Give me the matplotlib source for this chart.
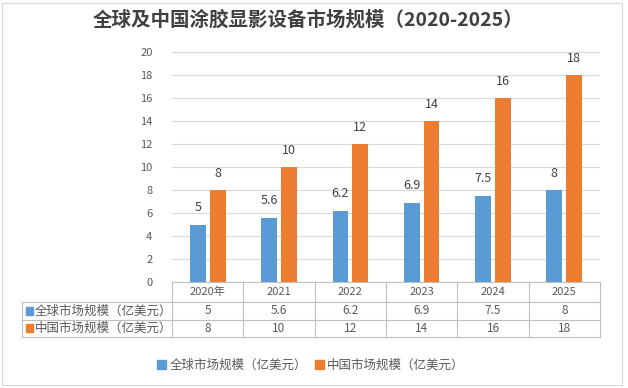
import numpy as np
import matplotlib.pyplot as plt
from matplotlib.patches import Rectangle

plt.rcParams['font.family'] = ['Noto Sans CJK SC', 'DejaVu Sans']

# --- data ---
years = ["2020年", "2021", "2022", "2023", "2024", "2025"]
global_size = [5, 5.6, 6.2, 6.9, 7.5, 8]
china_size = [8, 10, 12, 14, 16, 18]
series_names = ["全球市场规模（亿美元）", "中国市场规模（亿美元）"]
title = "全球及中国涂胶显影设备市场规模（2020-2025）"

blue = "#5B9BD5"
orange = "#ED7D31"
grid_c = "#D9D9D9"
txt_c = "#595959"

W, H = 628, 388
fig = plt.figure(figsize=(W / 100, H / 100), dpi=100)

# outer border
fig.patches.append(Rectangle((2 / W, 3 / H), 620 / W, 382 / H, transform=fig.transFigure,
                             fill=False, edgecolor="#D9D9D9", lw=0.8))

fig.text(308 / W, 1 - 20 / H, title, ha="center", va="center", fontsize=14,
         color="#404040", fontweight="bold")

x0, x1 = 172, 600
ax = fig.add_axes([x0 / W, 1 - 282 / H, (x1 - x0) / W, (282 - 52) / H])
x = np.arange(len(years))
bw = 0.22
gap = 0.03
ax.bar(x - bw / 2 - gap, global_size, bw, color=blue)
ax.bar(x + bw / 2 + gap, china_size, bw, color=orange)
for xi, g, c in zip(x, global_size, china_size):
    ax.text(xi - bw / 2 - gap, g + 0.9, f"{g:g}", ha="center", va="bottom", fontsize=9, color="#404040")
    ax.text(xi + bw / 2 + gap, c + 0.9, f"{c:g}", ha="center", va="bottom", fontsize=9, color="#404040")

ax.set_xlim(-0.5, len(years) - 0.5)
ax.set_ylim(0, 20)
ax.set_yticks(range(0, 21, 2))
ax.tick_params(axis="y", length=0, labelsize=8, colors=txt_c, pad=14)
ax.set_xticks([])
ax.grid(axis="y", color=grid_c, lw=0.8)
ax.set_axisbelow(True)
for s in ax.spines.values():
    s.set_visible(False)

# --- data table ---
tax = fig.add_axes([x0 / W, 1 - 337 / H, (x1 - x0) / W, (337 - 282) / H])
tax.set_xlim(-0.5, len(years) - 0.5)
tax.set_ylim(3, 0)
tax.axis("off")
cat_w = (x1 - x0) / len(years)
left = -0.5 - (x0 - 22) / cat_w
lc = "#BFBFBF"
# horizontal lines
tax.plot([-0.5, len(years) - 0.5], [0, 0], color=lc, lw=0.8, clip_on=False)
for yy in [1.1, 2.05, 3]:
    tax.plot([left, len(years) - 0.5], [yy, yy], color=lc, lw=0.8, clip_on=False)
# vertical lines
tax.plot([left, left], [1.1, 3], color=lc, lw=0.8, clip_on=False)
for xv in np.arange(-0.5, len(years) + 0.5, 1):
    tax.plot([xv, xv], [0, 3], color=lc, lw=0.8, clip_on=False)

for i, yr in enumerate(years):
    tax.text(i, 0.55, yr, ha="center", va="center", fontsize=8, color=txt_c)
    tax.text(i, 1.58, f"{global_size[i]:g}", ha="center", va="center", fontsize=8.5, color=txt_c)
    tax.text(i, 2.53, f"{china_size[i]:g}", ha="center", va="center", fontsize=8.5, color=txt_c)

for row, (name, col) in enumerate(zip(series_names, [blue, orange])):
    yy = 1.58 + row * 0.95
    tax.add_patch(Rectangle((left + 0.06, yy - 0.22), 0.09, 0.44, color=col, clip_on=False))
    tax.text(left + 0.18, yy, name, ha="left", va="center", fontsize=9, color=txt_c)

# --- legend ---
handles = [Rectangle((0, 0), 1, 1, color=blue), Rectangle((0, 0), 1, 1, color=orange)]
fig.legend(handles, series_names, loc="center", bbox_to_anchor=(311 / W, 1 - 365 / H),
           ncol=2, frameon=False, fontsize=9, handlelength=0.7, handleheight=0.7,
           handletextpad=0.3, columnspacing=0.6, labelcolor=txt_c)

fig.savefig("out.png", dpi=100)
